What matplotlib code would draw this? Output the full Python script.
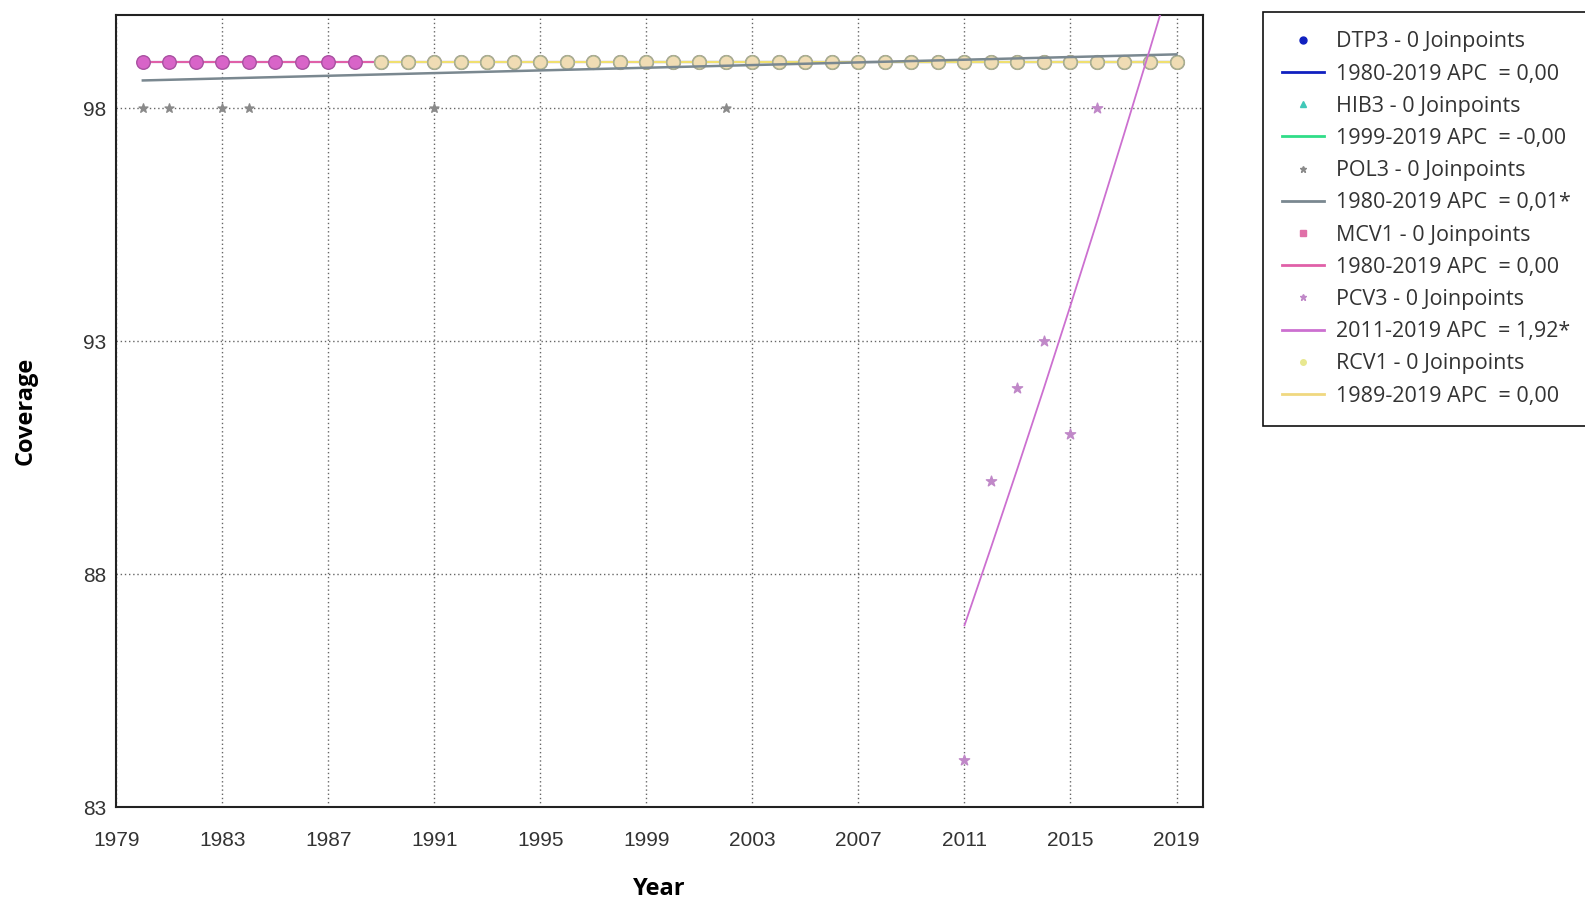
import numpy as np
import matplotlib
matplotlib.use("Agg")
import matplotlib.pyplot as plt
from matplotlib.lines import Line2D

# coverage data
years = list(range(1980, 2020))
dtp3 = [99] * 40
hib3_years = list(range(1999, 2020))
hib3 = [99] * 21
pol3 = [98, 98, 99, 98, 98, 99, 99, 99, 99, 99, 99, 98, 99, 99, 99, 99, 99, 99, 99, 99,
        99, 99, 98, 99, 99, 99, 99, 99, 99, 99, 99, 99, 99, 99, 99, 99, 99, 99, 99, 99]
mcv1 = [99] * 40
pcv3_years = list(range(2011, 2020))
pcv3 = [84, 90, 92, 93, 91, 98, 99, 99, 99]
rcv1_years = list(range(1989, 2020))
rcv1 = [99] * 31

# fitted joinpoint segments
dtp3_fit_years = [1980, 2019]
dtp3_fit = [99, 99]
hib3_fit_years = [1999, 2019]
hib3_fit = [99, 99]
pol3_fit_years = [1980, 2019]
pol3_fit = [98.6, 99.16]
mcv1_fit_years = [1980, 2019]
mcv1_fit = [99, 99]
pcv3_fit = [86.9, 88.57, 90.27, 92.0, 93.77, 95.57, 97.41, 99.28, 101.19]
rcv1_fit_years = [1989, 2019]
rcv1_fit = [99, 99]

labels = ["DTP3 - 0 Joinpoints", "1980-2019 APC  = 0,00",
          "HIB3 - 0 Joinpoints", "1999-2019 APC  = -0,00",
          "POL3 - 0 Joinpoints", "1980-2019 APC  = 0,01*",
          "MCV1 - 0 Joinpoints", "1980-2019 APC  = 0,00",
          "PCV3 - 0 Joinpoints", "2011-2019 APC  = 1,92*",
          "RCV1 - 0 Joinpoints", "1989-2019 APC  = 0,00"]

fig = plt.figure(figsize=(15.85, 9.02), dpi=100)
ax = fig.add_axes([0.0734, 0.1053, 0.6856, 0.8778])

# observed points (the stars sit under the big circles)
ax.scatter(years, pol3, s=45, marker="*", color="#8a8a8a", zorder=2)
ax.scatter(pcv3_years, pcv3, s=60, marker="*", color="#c088c8", zorder=2)
ax.scatter(years, dtp3, s=40, color="#1020c0", zorder=2)
ax.scatter(hib3_years, hib3, s=40, marker="^", color="#40c8b8", zorder=2)

# fit lines
ax.plot(dtp3_fit_years, dtp3_fit, color="#1020c0", lw=1.5, zorder=3)
ax.plot(hib3_fit_years, hib3_fit, color="#30dd88", lw=1.5, zorder=3)
ax.plot(mcv1_fit_years, mcv1_fit, color="#e060a8", lw=1.5, zorder=3)
ax.plot(rcv1_fit_years, rcv1_fit, color="#f0e070", lw=1.5, zorder=4)

ax.scatter(years, mcv1, s=95, marker="o", facecolor="#d864c8", edgecolor="#a850a0",
           linewidths=1, zorder=5)
ax.scatter(rcv1_years, rcv1, s=95, marker="o", facecolor="#f0dcb4", edgecolor="#a8b090",
           linewidths=1.2, zorder=6)

ax.plot(pol3_fit_years, pol3_fit, color="#7a8890", lw=1.8, zorder=7)
ax.plot(pcv3_years, pcv3_fit, color="#cc70d0", lw=1.3, zorder=7)

ax.set_xlim(1979, 2020)
ax.set_ylim(83, 100)
ax.set_xticks(range(1979, 2020, 4))
ax.set_yticks([83, 88, 93, 98])
ax.grid(True, color="#666666", linestyle=(0, (1, 2)), linewidth=1)
ax.tick_params(length=0, labelsize=15, labelcolor="#333333")
ax.tick_params(axis="x", pad=17)
ax.tick_params(axis="y", pad=7)
for lab in ax.get_xticklabels() + ax.get_yticklabels():
    lab.set_family("Liberation Sans")
for sp in ax.spines.values():
    sp.set_linewidth(1.5)
    sp.set_color("#222222")

ax.set_xlabel("Year", fontsize=17, fontweight="bold", family="Open Sans", va="center")
ax.set_ylabel("Coverage", fontsize=17, fontweight="bold", family="Open Sans", va="center")
ax.xaxis.set_label_coords(0.5, -0.104)
ax.yaxis.set_label_coords(-0.0837, 0.5)

handles = [
    Line2D([], [], ls="", marker="o", ms=5, color="#1020c0"),
    Line2D([], [], color="#1020c0", lw=2),
    Line2D([], [], ls="", marker="^", ms=5, color="#40c8b8"),
    Line2D([], [], color="#30dd88", lw=2),
    Line2D([], [], ls="", marker="*", ms=5, color="#8a8a8a"),
    Line2D([], [], color="#7a8890", lw=2),
    Line2D([], [], ls="", marker="s", ms=4, color="#e070a8"),
    Line2D([], [], color="#e060a8", lw=2),
    Line2D([], [], ls="", marker="*", ms=5, color="#c088c8"),
    Line2D([], [], color="#cc70d0", lw=2),
    Line2D([], [], ls="", marker="o", ms=4, color="#e8e890"),
    Line2D([], [], color="#f0d880", lw=2),
]
leg = ax.legend(handles, labels, loc="upper left", bbox_to_anchor=(1263 / 1585, 1 - 12 / 902),
                bbox_transform=fig.transFigure, fancybox=False, framealpha=1,
                edgecolor="#111111", borderaxespad=0, handlelength=1.95, handletextpad=0.55,
                labelspacing=0.52, borderpad=0.9, prop={"family": "Open Sans", "size": 15.5})
leg.get_frame().set_linewidth(1.2)
for t in leg.get_texts():
    t.set_color("#333333")

fig.savefig("out.png", dpi=100)
